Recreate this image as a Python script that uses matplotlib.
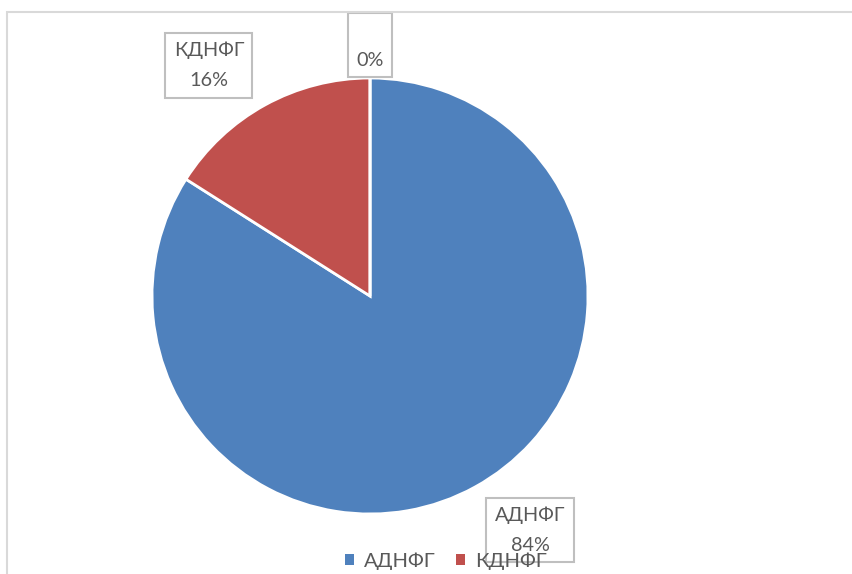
import matplotlib
matplotlib.use("Agg")
import matplotlib.pyplot as plt
from matplotlib.patches import Rectangle

categories = ["АДНФГ", "КДНФГ", ""]
values = [84, 16, 0]
colors = ["#4F81BD", "#C0504D", "#9BBB59"]

plt.rcParams['font.family'] = ['Lato', 'DejaVu Sans']

W, H = 852, 574
fig = plt.figure(figsize=(W/100, H/100), dpi=100)
fig.patch.set_facecolor("white")

# chart area border
fig.patches.append(Rectangle((7/W, -0.1), 1.2, (574-12)/H + 0.1, transform=fig.transFigure,
                             fill=False, edgecolor="#D9D9D9", linewidth=1.5))

cx, cy, r = 370, 296, 218
ax = fig.add_axes([(cx-r)/W, (H-cy-r)/H, 2*r/W, 2*r/H])
wedges, _ = ax.pie(values, colors=colors, startangle=90, counterclock=False,
                   wedgeprops=dict(edgecolor="white", linewidth=2), radius=1)
ax.set_xlim(-1, 1)
ax.set_ylim(-1, 1)
ax.set_aspect("equal")
ax.axis("off")

total = sum(values)
label_pos = [(0.734, -1.073), (-0.739, 1.057), (0.0, 1.151)]
for cat, v, (lx, ly) in zip(categories, values, label_pos):
    txt = f"{cat}\n{round(100*v/total):d}%"
    t = ax.text(lx, ly, txt, ha="center", va="center", fontsize=14.3, color="#595959",
                linespacing=1.95, clip_on=False,
                bbox=dict(boxstyle="square,pad=0.42", facecolor="white", edgecolor="#BFBFBF", linewidth=1.5))

# legend
leg = fig.legend(wedges[:2], categories[:2], loc="center", bbox_to_anchor=(446/W, 1-561/H),
                 ncol=2, frameon=False, fontsize=14.5, handlelength=0.45, handleheight=0.45,
                 handletextpad=0.5, columnspacing=1.0, labelcolor="#595959")
for h in leg.legend_handles:
    h.set_edgecolor("none")

fig.savefig("out.png", dpi=100)
